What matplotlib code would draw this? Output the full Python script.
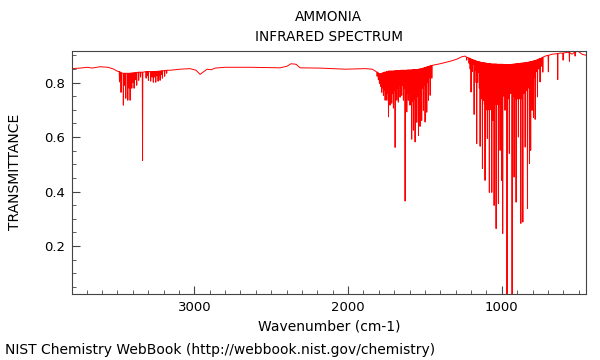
import matplotlib
matplotlib.use('Agg')
import matplotlib.pyplot as plt
import numpy as np

# smooth background of the spectrum (wavenumber, transmittance)
base_wn = [3796, 3744, 3692, 3666, 3614, 3562, 3523, 3503,
           3158, 3093, 3028, 2989, 2963, 2936, 2917, 2891, 2865, 2800,
           2637, 2442, 2397, 2371, 2338, 2312, 2182, 2019, 1889, 1843, 1822,
           1444, 1401, 1336, 1291, 1258, 1238,
           718, 673, 621, 575, 543, 504, 478, 452]
base_t = [0.851, 0.853, 0.856, 0.853, 0.858, 0.856, 0.849, 0.842,
          0.845, 0.849, 0.851, 0.845, 0.830, 0.841, 0.849, 0.847, 0.853, 0.856,
          0.856, 0.854, 0.860, 0.869, 0.867, 0.854, 0.853, 0.849, 0.851, 0.849, 0.842,
          0.864, 0.869, 0.878, 0.886, 0.895, 0.897,
          0.897, 0.904, 0.908, 0.911, 0.904, 0.915, 0.904, 0.900]

# strong absorption lines: position, local top, minimum
line_wn = [3487, 3477, 3462, 3446, 3433, 3418, 3407, 3392, 3375, 3362,
           3337,
           3314, 3299, 3284, 3267, 3251, 3236, 3223, 3208, 3193, 3180,
           1811, 1796, 1788, 1781, 1770, 1764, 1759, 1748, 1737, 1732,
           1727, 1716, 1705, 1694, 1683, 1673, 1662, 1651, 1640, 1629,
           1618, 1608, 1597, 1586, 1575, 1564, 1553, 1542, 1532, 1521,
           1510, 1499, 1488, 1477, 1466, 1455,
           1228, 1213, 1200, 1185, 1180, 1170, 1163, 1152, 1141, 1126,
           1118, 1109, 1094, 1081, 1065, 1058, 1050, 1037, 1022, 1011,
           1001, 994, 979, 966, 951, 933, 920, 907, 892, 876,
           863, 848, 833, 820, 812, 803, 794, 783, 768, 751,
           733, 697, 636, 601, 560, 523]
line_top = [0.840, 0.836, 0.834, 0.834, 0.834, 0.834, 0.835, 0.836, 0.837, 0.838,
            0.838,
            0.840, 0.840, 0.840, 0.840, 0.841, 0.841, 0.842, 0.843, 0.844, 0.845,
            0.838, 0.832, 0.832, 0.834, 0.836, 0.838, 0.838, 0.840, 0.842, 0.842,
            0.842, 0.842, 0.842, 0.843, 0.844, 0.844, 0.844, 0.845, 0.845, 0.845,
            0.845, 0.846, 0.846, 0.846, 0.847, 0.848, 0.848, 0.849, 0.850, 0.851,
            0.853, 0.855, 0.857, 0.859, 0.861, 0.863,
            0.893, 0.890, 0.886, 0.883, 0.882, 0.880, 0.878, 0.876, 0.875, 0.873,
            0.872, 0.872, 0.870, 0.870, 0.868, 0.868, 0.868, 0.868, 0.867, 0.867,
            0.867, 0.867, 0.866, 0.866, 0.866, 0.867, 0.868, 0.869, 0.870, 0.871,
            0.872, 0.873, 0.874, 0.875, 0.876, 0.878, 0.879, 0.881, 0.884, 0.888,
            0.893, 0.900, 0.906, 0.908, 0.910, 0.912]
line_min = [0.802, 0.764, 0.717, 0.742, 0.735, 0.735, 0.779, 0.779, 0.790, 0.808,
            0.514,
            0.816, 0.808, 0.805, 0.801, 0.801, 0.805, 0.808, 0.816, 0.823, 0.834,
            0.823, 0.797, 0.786, 0.764, 0.753, 0.772, 0.735, 0.735, 0.674, 0.753,
            0.717, 0.724, 0.706, 0.562, 0.735, 0.728, 0.746, 0.753, 0.735, 0.365,
            0.692, 0.735, 0.717, 0.592, 0.625, 0.582, 0.654, 0.606, 0.639, 0.661,
            0.698, 0.655, 0.691, 0.735, 0.753, 0.816,
            0.882, 0.871, 0.765, 0.867, 0.683, 0.845, 0.576, 0.838, 0.566, 0.485,
            0.735, 0.441, 0.595, 0.397, 0.397, 0.661, 0.349, 0.264, 0.356, 0.551,
            0.441, 0.246, 0.698, 0.000, 0.540, 0.000, 0.453, 0.361, 0.600, 0.283,
            0.288, 0.563, 0.338, 0.503, 0.551, 0.698, 0.672, 0.665, 0.747, 0.802,
            0.838, 0.839, 0.811, 0.882, 0.878, 0.897]

# weaker lines filling the bands
weak_wn = [3454, 3425, 3400, 3384, 3350, 3306, 3275, 3259, 3244, 3230, 3215,
           1803, 1775, 1753, 1742, 1721, 1710, 1699, 1688, 1678, 1667,
           1656, 1645, 1634, 1623, 1613, 1602, 1591, 1580, 1569, 1558,
           1547, 1537, 1526, 1515, 1504, 1493, 1482, 1471, 1460,
           1206, 1192, 1175, 1157, 1146, 1133, 1122, 1113, 1101, 1087,
           1073, 1044, 1029, 1016, 1005, 986, 972, 958, 942, 926,
           913, 899, 884, 869, 855, 840, 826, 816, 798, 788,
           775, 760, 742]
weak_top = [0.834, 0.834, 0.835, 0.836, 0.838, 0.840, 0.840, 0.840, 0.841, 0.842, 0.843,
            0.835, 0.835, 0.838, 0.840, 0.842, 0.842, 0.843, 0.843, 0.844, 0.844,
            0.845, 0.845, 0.845, 0.845, 0.846, 0.846, 0.846, 0.847, 0.847, 0.848,
            0.848, 0.849, 0.850, 0.852, 0.854, 0.856, 0.858, 0.860, 0.862,
            0.888, 0.885, 0.881, 0.877, 0.876, 0.874, 0.873, 0.872, 0.871, 0.870,
            0.869, 0.868, 0.867, 0.867, 0.867, 0.866, 0.866, 0.866, 0.866, 0.867,
            0.868, 0.869, 0.870, 0.871, 0.872, 0.874, 0.875, 0.876, 0.878, 0.880,
            0.882, 0.886, 0.890]
weak_min = [0.790, 0.780, 0.800, 0.810, 0.820, 0.825, 0.820, 0.820, 0.825, 0.825, 0.830,
            0.810, 0.780, 0.770, 0.760, 0.770, 0.760, 0.770, 0.780, 0.780, 0.790,
            0.790, 0.790, 0.780, 0.760, 0.760, 0.760, 0.740, 0.730, 0.740, 0.740,
            0.750, 0.760, 0.770, 0.780, 0.790, 0.800, 0.800, 0.820, 0.840,
            0.850, 0.840, 0.800, 0.800, 0.780, 0.740, 0.760, 0.720, 0.700, 0.700,
            0.700, 0.720, 0.720, 0.720, 0.720, 0.750, 0.750, 0.740, 0.760, 0.750,
            0.740, 0.740, 0.740, 0.740, 0.760, 0.770, 0.780, 0.800, 0.820, 0.820,
            0.840, 0.850, 0.860]

# build the trace: each line is a narrow spike from its local top
pts = list(zip(base_wn, base_t))
hw = 1.8
for w, top, m in zip(line_wn + weak_wn, line_top + weak_top, line_min + weak_min):
    pts += [(w + hw, top), (w, m), (w - hw, top)]
pts.sort(key=lambda p: -p[0])
wn = np.array([p[0] for p in pts])
tr = np.array([p[1] for p in pts])

fig = plt.figure(figsize=(6, 3.6), dpi=100)
ax = fig.add_axes([0.12, 0.1833, 0.8567, 0.676])
ax.plot(wn, tr, color='#ff0000', lw=0.7)

ax.set_xlim(3796, 452)
ax.set_ylim(0.024, 0.917)
ax.set_xticks([3000, 2000, 1000])
ax.set_xticks(np.arange(3700, 400, -100), minor=True)
ax.set_yticks([0.2, 0.4, 0.6, 0.8])
ax.set_yticks(np.arange(0.05, 0.92, 0.05), minor=True)
ax.tick_params(which='both', direction='in', colors='#444444',
               labelcolor='black', labelsize=9.5, top=False, right=False)
ax.tick_params(which='major', length=6, pad=5)
ax.tick_params(which='minor', length=3)
for s in ax.spines.values():
    s.set_color('#444444')

ax.set_xlabel('Wavenumber (cm-1)', fontsize=10, labelpad=4)
ax.set_ylabel('TRANSMITTANCE', fontsize=10)
ax.yaxis.set_label_coords(-0.098, 0.5)
fig.text(0.548, 0.953, 'AMMONIA', ha='center', va='center', fontsize=9.8)
fig.text(0.548, 0.897, 'INFRARED SPECTRUM', ha='center', va='center', fontsize=9.8)
fig.text(0.008, 0.028, 'NIST Chemistry WebBook (http://webbook.nist.gov/chemistry)',
         ha='left', va='center', fontsize=10)

fig.savefig('out.png', dpi=100)
